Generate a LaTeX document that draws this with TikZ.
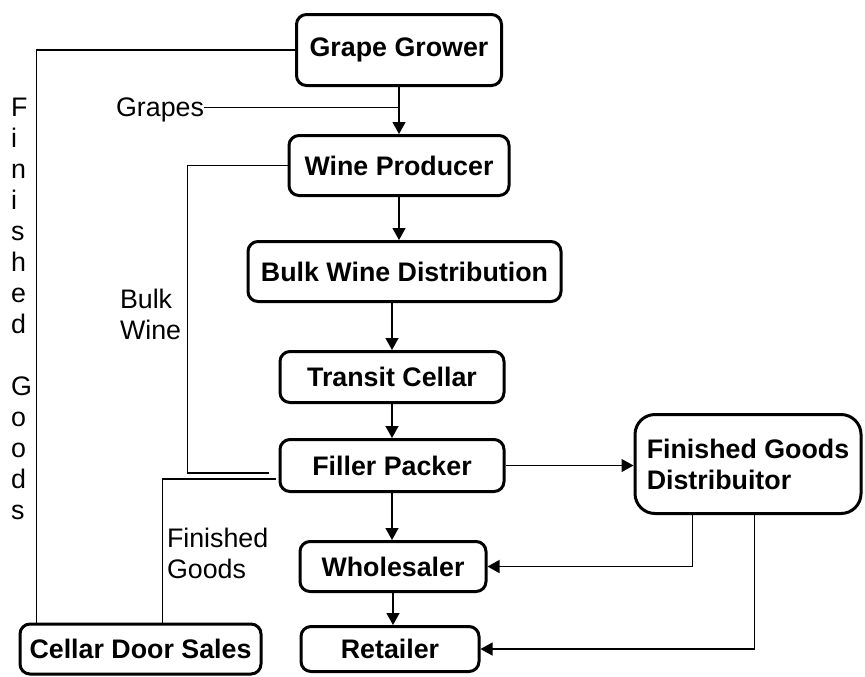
\documentclass[tikz,border=0pt]{standalone}
\usepackage{fontspec}
\setmainfont{Liberation Sans}
\usetikzlibrary{arrows.meta,positioning}

\begin{document}
\begin{tikzpicture}[x=1pt,y=1pt,every node/.style={font=\fontsize{13.4}{15.5}\selectfont},
 stage/.style={draw,line width=1.5pt,rounded corners=5pt,font=\fontsize{13.4}{15.5}\selectfont\bfseries},
 flow/.style={line width=0.65pt,-{Triangle[length=6pt,width=6.5pt]}},
 link/.style={line width=0.65pt},
 lbl/.style={inner sep=0pt,outer sep=0pt,align=left}]
\useasboundingbox (0,0) rectangle (432.5,-338);

  \node[stage,minimum width=102.5pt,minimum height=35.5pt] (gg) at (199.5,-25) {Grape Grower};
  \node[stage,minimum width=110pt,minimum height=30pt,below=23.5pt of gg] (wp) {Wine Producer};
  \node[stage,minimum width=156.5pt,minimum height=30pt,below=21.5pt of wp,xshift=2.75pt] (bw) {Bulk Wine Distribution};
  \node[stage,minimum width=112pt,minimum height=25.5pt,below=23.5pt of bw,xshift=-6.25pt] (tc) {Transit Cellar};
  \node[stage,minimum width=112pt,minimum height=26pt,below=17pt of tc] (fp) {Filler Packer};
  \node[stage,minimum width=93pt,minimum height=25pt,below=23.5pt of fp,xshift=0.5pt] (ws) {Wholesaler};
  \node[stage,minimum width=89pt,minimum height=22.5pt,below=16pt of ws,xshift=-1.5pt] (rt) {Retailer};

  \node[stage,rounded corners=10pt,align=left,minimum width=113pt,minimum height=49.5pt,right=64pt of fp,yshift=0.75pt] (fgd) {Finished Goods\\Distribuitor};
  \node[stage,minimum width=120.5pt,minimum height=25pt,left=18.5pt of rt] (cds) {Cellar Door Sales};

  % main chain
  \draw[flow] (gg) -- (gg |- wp.north);
  \draw[flow] (wp) -- (wp |- bw.north);
  \draw[flow] (bw.south -| tc) -- (tc);
  \draw[flow] (tc) -- (fp);
  \draw[flow] (fp) -- (fp |- ws.north);
  \draw[flow] (ws) -- (ws |- rt.north);

  \draw[flow] (fp) -- (fp -| fgd.west);
  \draw[flow] ([xshift=-27.75pt]fgd.south) |- (ws.east);
  \draw[flow] ([xshift=3.25pt]fgd.south) |- (rt.east);

  \node[lbl,anchor=base east] (grapes) at (102,-58) {Grapes};
  \draw[link] ([yshift=1pt]grapes.east) -- ([yshift=1pt]grapes.east -| gg.south);

  \coordinate (bwend) at ([xshift=-5pt,yshift=-3.75pt]fp.west);
  \draw[link] (wp.west) -- ++(-50,0) |- (bwend);
  \node[lbl,anchor=west] (bulk) at (60,-157) {Bulk\\Wine};

  \coordinate (fgend) at ([xshift=-1.5pt,yshift=-6.75pt]fp.west);
  \draw[link] (fgend) -| ([xshift=11pt]cds.north);
  \node[lbl,anchor=west] (fglbl) at (83.5,-276.75) {Finished\\Goods};

  \draw[link] (gg.west) -| ([xshift=-52pt]cds.north);
  \node[lbl,anchor=west] (fgside) at (5.5,-154.5) {F\\i\\n\\i\\s\\h\\e\\d\\~\\G\\o\\o\\d\\s};
\end{tikzpicture}
\end{document}
